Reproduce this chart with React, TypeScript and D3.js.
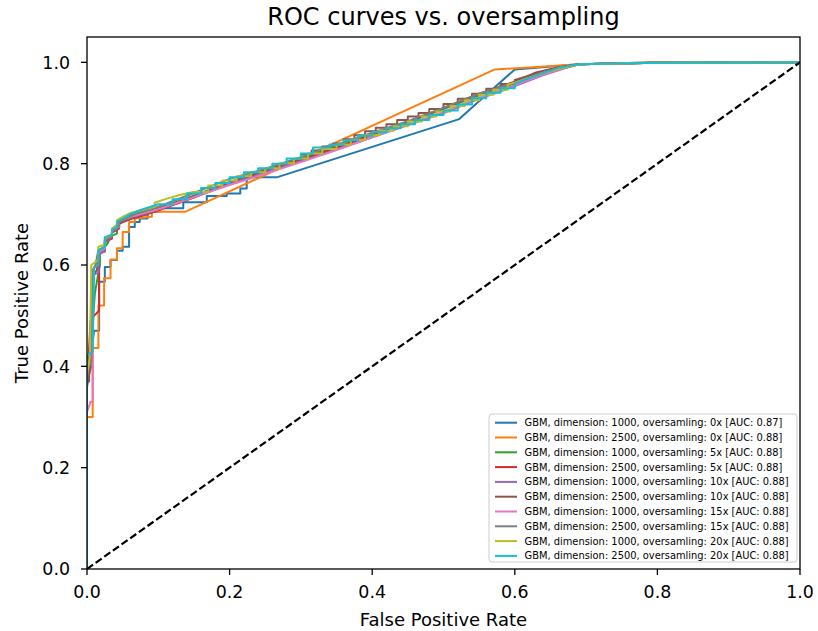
import React from "react";
import * as d3 from "d3";

const W = 818;
const H = 631;
const M = { left: 87, right: 800, top: 37, bottom: 569 };

const titleText = "ROC curves vs. oversampling";
const xLabel = "False Positive Rate";
const yLabel = "True Positive Rate";
const xTicks = [0, 0.2, 0.4, 0.6, 0.8, 1.0];
const yTicks = [0, 0.2, 0.4, 0.6, 0.8, 1.0];

const seriesLabels = [
  "GBM, dimension: 1000, oversamling: 0x [AUC: 0.87]",
  "GBM, dimension: 2500, oversamling: 0x [AUC: 0.88]",
  "GBM, dimension: 1000, oversamling: 5x [AUC: 0.88]",
  "GBM, dimension: 2500, oversamling: 5x [AUC: 0.88]",
  "GBM, dimension: 1000, oversamling: 10x [AUC: 0.88]",
  "GBM, dimension: 2500, oversamling: 10x [AUC: 0.88]",
  "GBM, dimension: 1000, oversamling: 15x [AUC: 0.88]",
  "GBM, dimension: 2500, oversamling: 15x [AUC: 0.88]",
  "GBM, dimension: 1000, oversamling: 20x [AUC: 0.88]",
  "GBM, dimension: 2500, oversamling: 20x [AUC: 0.88]",
];

const colors = [
  "#1f77b4", "#ff7f0e", "#2ca02c", "#d62728", "#9467bd",
  "#8c564b", "#e377c2", "#7f7f7f", "#bcbd22", "#17becf",
];

type P = [number, number];

const roc0x1000: P[] = [
  [0, 0], [0, 0.37], [0.003, 0.37], [0.003, 0.4], [0.01, 0.47], [0.017, 0.47],
  [0.017, 0.567], [0.025, 0.567], [0.025, 0.596], [0.033, 0.596], [0.033, 0.61],
  [0.042, 0.61], [0.042, 0.628], [0.05, 0.628], [0.05, 0.636], [0.059, 0.636],
  [0.059, 0.675], [0.067, 0.675], [0.067, 0.685], [0.074, 0.685], [0.074, 0.692],
  [0.085, 0.692], [0.085, 0.705], [0.102, 0.705], [0.102, 0.712], [0.135, 0.712],
  [0.135, 0.724], [0.168, 0.724], [0.168, 0.736], [0.196, 0.736], [0.196, 0.741],
  [0.215, 0.741], [0.215, 0.751], [0.224, 0.751], [0.224, 0.773], [0.266, 0.773],
  [0.522, 0.888], [0.6, 0.986], [0.69, 0.996], [0.8, 1.0], [1, 1],
];

const roc0x2500: P[] = [
  [0, 0], [0, 0.3], [0.008, 0.3], [0.008, 0.436], [0.016, 0.436], [0.016, 0.52],
  [0.024, 0.52], [0.024, 0.574], [0.033, 0.574], [0.033, 0.611], [0.042, 0.611],
  [0.042, 0.633], [0.05, 0.633], [0.05, 0.665], [0.059, 0.665], [0.059, 0.685],
  [0.067, 0.685], [0.067, 0.692], [0.091, 0.695], [0.091, 0.705], [0.1375, 0.705],
  [0.572, 0.986], [0.62, 0.99], [0.69, 0.996], [0.8, 1.0], [1, 1],
];

const roc5x1000: P[] = [
  [0, 0], [0, 0.4], [0.005, 0.42], [0.011, 0.544], [0.018, 0.6], [0.018, 0.626],
  [0.025, 0.626], [0.025, 0.636], [0.03, 0.645], [0.03, 0.655], [0.042, 0.662],
  [0.042, 0.678], [0.051, 0.686], [0.06, 0.69], [0.06, 0.698], [0.08, 0.705],
  [0.1, 0.712], [0.12, 0.722], [0.15, 0.737], [0.18, 0.752], [0.215, 0.77],
  [0.25, 0.787], [0.3, 0.81], [0.35, 0.834], [0.4, 0.859], [0.45, 0.882],
  [0.5, 0.908], [0.55, 0.935], [0.6, 0.958], [0.64, 0.978], [0.67, 0.99],
  [0.69, 0.996], [0.8, 0.999], [1, 1],
];

const roc5x2500: P[] = [
  [0, 0], [0, 0.36], [0.005, 0.49], [0.01, 0.5], [0.017, 0.51], [0.017, 0.622],
  [0.025, 0.628], [0.025, 0.645], [0.035, 0.652], [0.035, 0.664], [0.045, 0.672],
  [0.045, 0.682], [0.06, 0.69], [0.08, 0.698], [0.1, 0.708], [0.15, 0.733],
  [0.2, 0.76], [0.25, 0.783], [0.3, 0.807], [0.35, 0.831], [0.4, 0.857],
  [0.45, 0.882], [0.5, 0.91], [0.55, 0.938], [0.6, 0.962], [0.63, 0.98],
  [0.66, 0.99], [0.69, 0.996], [0.8, 0.999], [1, 1],
];

const roc10x1000: P[] = [
  [0, 0], [0, 0.37], [0.006, 0.4], [0.008, 0.58], [0.016, 0.585], [0.016, 0.62],
  [0.025, 0.628], [0.025, 0.645], [0.035, 0.655], [0.035, 0.666], [0.045, 0.674],
  [0.045, 0.684], [0.06, 0.692], [0.08, 0.7], [0.1, 0.71], [0.15, 0.734],
  [0.2, 0.76], [0.25, 0.782], [0.3, 0.805], [0.35, 0.828], [0.4, 0.852],
  [0.45, 0.876], [0.5, 0.9], [0.55, 0.928], [0.6, 0.953], [0.64, 0.975],
  [0.67, 0.988], [0.69, 0.996], [0.8, 0.999], [1, 1],
];

const roc10x2500: P[] = [
  [0, 0], [0, 0.36], [0.005, 0.4], [0.008, 0.58], [0.014, 0.59], [0.016, 0.625],
  [0.025, 0.63], [0.025, 0.648], [0.035, 0.655], [0.035, 0.668], [0.045, 0.675],
  [0.045, 0.684], [0.06, 0.692], [0.08, 0.7], [0.1, 0.71], [0.15, 0.736],
  [0.2, 0.764], [0.25, 0.787], [0.3, 0.812], [0.3, 0.818], [0.315, 0.818],
  [0.315, 0.826], [0.33, 0.826], [0.33, 0.834], [0.345, 0.834], [0.345, 0.84],
  [0.36, 0.84], [0.36, 0.848], [0.375, 0.848], [0.375, 0.856], [0.39, 0.856],
  [0.39, 0.864], [0.405, 0.864], [0.405, 0.871], [0.42, 0.871], [0.42, 0.878],
  [0.435, 0.878], [0.435, 0.886], [0.45, 0.886], [0.45, 0.893], [0.465, 0.893],
  [0.465, 0.9], [0.48, 0.9], [0.48, 0.908], [0.5, 0.908], [0.5, 0.918],
  [0.52, 0.918], [0.52, 0.928], [0.54, 0.928], [0.54, 0.938], [0.56, 0.938],
  [0.56, 0.948], [0.58, 0.948], [0.58, 0.957], [0.6, 0.957], [0.6, 0.965],
  [0.64, 0.982], [0.67, 0.992], [0.69, 0.996], [0.8, 0.999], [1, 1],
];

const roc15x1000: P[] = [
  [0, 0], [0, 0.31], [0.005, 0.33], [0.008, 0.33], [0.008, 0.59], [0.012, 0.6],
  [0.016, 0.625], [0.025, 0.632], [0.025, 0.65], [0.035, 0.657], [0.035, 0.668],
  [0.045, 0.676], [0.045, 0.686], [0.06, 0.694], [0.08, 0.702], [0.1, 0.71],
  [0.15, 0.734], [0.2, 0.758], [0.25, 0.78], [0.3, 0.803], [0.35, 0.827],
  [0.4, 0.852], [0.45, 0.877], [0.5, 0.902], [0.55, 0.93], [0.6, 0.955],
  [0.64, 0.976], [0.67, 0.989], [0.69, 0.996], [0.8, 0.999], [1, 1],
];

const roc15x2500: P[] = [
  [0, 0], [0, 0.39], [0.006, 0.41], [0.008, 0.59], [0.012, 0.6], [0.016, 0.63],
  [0.025, 0.636], [0.025, 0.65], [0.035, 0.658], [0.035, 0.668], [0.045, 0.678],
  [0.045, 0.686], [0.055, 0.692], [0.07, 0.702], [0.1, 0.715], [0.15, 0.742],
  [0.2, 0.77], [0.25, 0.79], [0.3, 0.813], [0.35, 0.837], [0.4, 0.861],
  [0.45, 0.884], [0.5, 0.91], [0.55, 0.938], [0.6, 0.96], [0.64, 0.98],
  [0.67, 0.99], [0.69, 0.996], [0.8, 0.999], [1, 1],
];

const roc20x1000: P[] = [
  [0, 0], [0, 0.38], [0.004, 0.42], [0.006, 0.6], [0.009, 0.603], [0.016, 0.61],
  [0.016, 0.636], [0.025, 0.64], [0.025, 0.653], [0.035, 0.66], [0.035, 0.672],
  [0.042, 0.68], [0.042, 0.688], [0.051, 0.696], [0.06, 0.702], [0.084, 0.711],
  [0.095, 0.715], [0.095, 0.723], [0.112, 0.731], [0.13, 0.738], [0.149, 0.744],
  [0.17, 0.744], [0.17, 0.757], [0.19, 0.757], [0.19, 0.767], [0.21, 0.767],
  [0.21, 0.775], [0.23, 0.775], [0.23, 0.783], [0.25, 0.783], [0.25, 0.791],
  [0.27, 0.791], [0.27, 0.801], [0.29, 0.801], [0.29, 0.81], [0.31, 0.81],
  [0.31, 0.82], [0.33, 0.82], [0.33, 0.829], [0.35, 0.829], [0.35, 0.838],
  [0.37, 0.838], [0.37, 0.847], [0.39, 0.847], [0.39, 0.856], [0.41, 0.856],
  [0.41, 0.865], [0.43, 0.865], [0.43, 0.874], [0.45, 0.874], [0.45, 0.883],
  [0.47, 0.883], [0.47, 0.893], [0.49, 0.893], [0.49, 0.903], [0.51, 0.903],
  [0.51, 0.914], [0.53, 0.914], [0.53, 0.925], [0.55, 0.925], [0.55, 0.936],
  [0.57, 0.936], [0.57, 0.946], [0.59, 0.946], [0.59, 0.956], [0.6, 0.96],
  [0.64, 0.979], [0.67, 0.99], [0.69, 0.996], [0.8, 0.999], [1, 1],
];

const roc20x2500: P[] = [
  [0, 0], [0, 0.42], [0.008, 0.43], [0.01, 0.594], [0.016, 0.6], [0.016, 0.629],
  [0.025, 0.635], [0.025, 0.655], [0.035, 0.66], [0.035, 0.67], [0.042, 0.675],
  [0.042, 0.685], [0.051, 0.692], [0.06, 0.7], [0.074, 0.708], [0.1, 0.72],
  [0.12, 0.72], [0.12, 0.73], [0.14, 0.73], [0.14, 0.741], [0.16, 0.741],
  [0.16, 0.752], [0.18, 0.752], [0.18, 0.762], [0.2, 0.762], [0.2, 0.773],
  [0.22, 0.773], [0.22, 0.783], [0.24, 0.783], [0.24, 0.791], [0.26, 0.791],
  [0.26, 0.8], [0.28, 0.8], [0.28, 0.81], [0.3, 0.81], [0.3, 0.82],
  [0.317, 0.82], [0.317, 0.832], [0.34, 0.832], [0.34, 0.838], [0.36, 0.838],
  [0.36, 0.846], [0.38, 0.846], [0.38, 0.855], [0.4, 0.855], [0.4, 0.862],
  [0.42, 0.862], [0.42, 0.87], [0.44, 0.87], [0.44, 0.878], [0.46, 0.878],
  [0.46, 0.886], [0.48, 0.886], [0.48, 0.896], [0.5, 0.896], [0.5, 0.905],
  [0.52, 0.905], [0.52, 0.917], [0.54, 0.917], [0.54, 0.929], [0.56, 0.929],
  [0.56, 0.94], [0.58, 0.94], [0.58, 0.949], [0.6, 0.949], [0.6, 0.958],
  [0.626, 0.972], [0.663, 0.99], [0.69, 0.996], [0.8, 0.999], [1, 1],
];

const allSeries = [
  roc0x1000, roc0x2500, roc5x1000, roc5x2500, roc10x1000,
  roc10x2500, roc15x1000, roc15x2500, roc20x1000, roc20x2500,
];

const chanceLine: P[] = [[0, 0], [1, 1]];

const FONT = "DejaVu Sans, sans-serif";

export default function App() {
  const x = d3.scaleLinear().domain([0, 1]).range([M.left, M.right]);
  const y = d3.scaleLinear().domain([0, 1.05]).range([M.bottom, M.top]);
  const line = d3
    .line<P>()
    .x((d) => x(d[0]))
    .y((d) => y(d[1]));

  const legX = 489;
  const legY = 414;
  const legW = 308;
  const legH = 148;
  const rowH = 14.8;
  const row0 = 422.7;

  return (
    <svg
      width={W}
      height={H}
      style={{ position: "absolute", left: 0, top: 0, display: "block", background: "#fff" }}
      fontFamily={FONT}
    >
      <rect x={0} y={0} width={W} height={H} fill="#fff" />
      <defs>
        <clipPath id="plotclip">
          <rect x={M.left} y={M.top} width={M.right - M.left} height={M.bottom - M.top} />
        </clipPath>
      </defs>
      <g clipPath="url(#plotclip)">
        {allSeries.map((s, i) => (
          <path
            key={i}
            d={line(s) || ""}
            fill="none"
            stroke={colors[i]}
            strokeWidth={2}
            strokeLinejoin="round"
          />
        ))}
        <path
          d={line(chanceLine) || ""}
          fill="none"
          stroke="#000"
          strokeWidth={2.2}
          strokeDasharray="7.4 3.2"
        />
      </g>
      <rect
        x={M.left}
        y={M.top}
        width={M.right - M.left}
        height={M.bottom - M.top}
        fill="none"
        stroke="#000"
        strokeWidth={1.3}
      />
      {xTicks.map((t) => (
        <g key={"x" + t}>
          <line x1={x(t)} x2={x(t)} y1={M.bottom} y2={M.bottom + 6} stroke="#000" strokeWidth={1.3} />
          <text x={x(t)} y={598} fontSize={17.4} textAnchor="middle" fill="#000">
            {t.toFixed(1)}
          </text>
        </g>
      ))}
      {yTicks.map((t) => (
        <g key={"y" + t}>
          <line x1={M.left - 6} x2={M.left} y1={y(t)} y2={y(t)} stroke="#000" strokeWidth={1.3} />
          <text x={70} y={y(t) + 6.3} fontSize={17.4} textAnchor="end" fill="#000">
            {t.toFixed(1)}
          </text>
        </g>
      ))}
      <text x={(M.left + M.right) / 2} y={626} fontSize={18} textAnchor="middle" fill="#000">
        {xLabel}
      </text>
      <text
        transform={`translate(28, ${(M.top + M.bottom) / 2}) rotate(-90)`}
        fontSize={18}
        textAnchor="middle"
        fill="#000"
      >
        {yLabel}
      </text>
      <text x={(M.left + M.right) / 2} y={25} fontSize={24} textAnchor="middle" fill="#000">
        {titleText}
      </text>
      <rect
        x={legX}
        y={legY}
        width={legW}
        height={legH}
        rx={3}
        ry={3}
        fill="#fff"
        fillOpacity={0.8}
        stroke="#ccc"
        strokeWidth={1}
      />
      {seriesLabels.map((lab, i) => {
        const cy = row0 + i * rowH;
        return (
          <g key={"l" + i}>
            <line x1={495} x2={517} y1={cy} y2={cy} stroke={colors[i]} strokeWidth={2} />
            <text x={524.5} y={cy + 3.5} fontSize={9.9} fill="#000">
              {lab}
            </text>
          </g>
        );
      })}
    </svg>
  );
}
